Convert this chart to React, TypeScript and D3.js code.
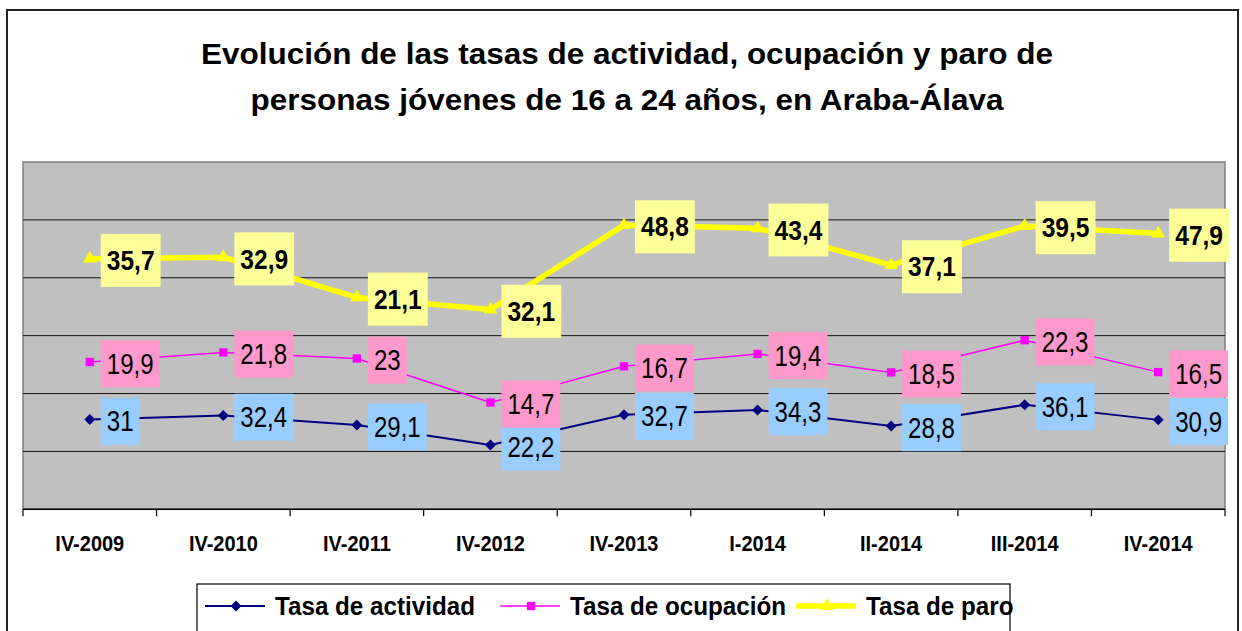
import React, { useEffect, useRef } from 'react';
import * as d3 from 'd3';

const categories = ['IV-2009', 'IV-2010', 'IV-2011', 'IV-2012', 'IV-2013', 'I-2014', 'II-2014', 'III-2014', 'IV-2014'];
const actividad = [31, 32.4, 29.1, 22.2, 32.7, 34.3, 28.8, 36.1, 30.9];
const ocupacion = [19.9, 21.8, 23, 14.7, 16.7, 19.4, 18.5, 22.3, 16.5];
const paro = [35.7, 32.9, 21.1, 32.1, 48.8, 43.4, 37.1, 39.5, 47.9];
const yTicks = [0, 20, 40, 60, 80, 100, 120];
const titleLines = ['Evolución de las tasas de actividad, ocupación y paro de', 'personas jóvenes de 16 a 24 años, en Araba-Álava'];

const FONT = '"Liberation Sans", Arial, sans-serif';

// square diamond (Excel style), rotated square
const diamond: d3.SymbolType = {
  draw(ctx, size) {
    const r = Math.sqrt(size / 2);
    ctx.moveTo(0, -r);
    ctx.lineTo(r, 0);
    ctx.lineTo(0, r);
    ctx.lineTo(-r, 0);
    ctx.closePath();
  },
};

const seriesDefs = [
  { key: 'actividad', name: 'Tasa de actividad', values: actividad, line: '#000080', width: 2, symbol: diamond, size: 60, box: '#99CCFF', bold: false },
  { key: 'ocupacion', name: 'Tasa de ocupación', values: ocupacion, line: '#FF00FF', width: 1.5, symbol: d3.symbolSquare, size: 70, box: '#FF99CC', bold: false },
  { key: 'paro', name: 'Tasa de paro', values: paro, line: '#FFFF00', width: 5.5, symbol: d3.symbolTriangle, size: 80, box: '#FFFF99', bold: true },
];

const App: React.FC = () => {
  const ref = useRef<SVGSVGElement>(null);

  useEffect(() => {
    if (!ref.current) return;
    const svg = d3.select(ref.current);
    svg.selectAll('*').remove();

    const W = 1242;
    const H = 631;
    const plot = { left: 23, right: 1225, top: 162, bottom: 509.3 };

    // outer frame
    svg.append('rect').attr('x', 0).attr('y', 0).attr('width', W).attr('height', H).attr('fill', '#fff');
    svg.append('rect')
      .attr('x', 7).attr('y', 10).attr('width', 1231).attr('height', 640)
      .attr('fill', '#fff').attr('stroke', '#222').attr('stroke-width', 2);

    // title
    titleLines.forEach((t, i) => {
      svg.append('text')
        .attr('transform', `translate(627, ${63.5 + i * 46}) scale(1.125, 1.05)`)
        .attr('text-anchor', 'middle')
        .attr('font-family', FONT)
        .attr('font-weight', 'bold')
        .attr('font-size', 28)
        .attr('fill', '#000')
        .text(t);
    });

    const x = d3.scaleBand<string>().domain(categories).range([plot.left, plot.right]);
    const y = d3.scaleLinear().domain([0, 120]).range([plot.bottom, plot.top]);
    const cx = (c: string) => (x(c) || 0) + x.bandwidth() / 2;

    // plot area
    svg.append('rect')
      .attr('x', plot.left).attr('y', plot.top)
      .attr('width', plot.right - plot.left).attr('height', plot.bottom - plot.top)
      .attr('fill', '#C0C0C0').attr('stroke', '#808080').attr('stroke-width', 1.5);

    svg.append('g').selectAll('line')
      .data(yTicks.filter(v => v > 0 && v < 120))
      .enter().append('line')
      .attr('x1', plot.left).attr('x2', plot.right)
      .attr('y1', d => y(d)).attr('y2', d => y(d))
      .attr('stroke', '#111').attr('stroke-width', 1);

    // x axis
    svg.append('line')
      .attr('x1', plot.left).attr('x2', plot.right)
      .attr('y1', plot.bottom).attr('y2', plot.bottom)
      .attr('stroke', '#000').attr('stroke-width', 1.5);

    const boundaries = categories.map(c => x(c) || 0).concat([plot.right]);
    svg.append('g').selectAll('line')
      .data(boundaries)
      .enter().append('line')
      .attr('x1', d => d).attr('x2', d => d)
      .attr('y1', plot.bottom).attr('y2', plot.bottom + 7)
      .attr('stroke', '#000').attr('stroke-width', 1.2);

    svg.append('g').selectAll('text')
      .data(categories)
      .enter().append('text')
      .attr('transform', d => `translate(${cx(d)}, 551) scale(0.93, 1.05)`)
      .attr('text-anchor', 'middle')
      .attr('font-family', FONT)
      .attr('font-weight', 'bold')
      .attr('font-size', 21.5)
      .attr('fill', '#000')
      .text(d => d);

    // stacked values
    const rows = categories.map((c, i) => ({ cat: c, actividad: actividad[i], ocupacion: ocupacion[i], paro: paro[i] }));
    const stacked = d3.stack<any>().keys(seriesDefs.map(s => s.key))(rows);

    const line = d3.line<any>()
      .x(d => cx(d.data.cat))
      .y(d => y(d[1]));

    seriesDefs.forEach((s, si) => {
      svg.append('path')
        .datum(stacked[si])
        .attr('d', line)
        .attr('fill', 'none')
        .attr('stroke', s.line)
        .attr('stroke-width', s.width)
        .attr('stroke-linejoin', 'round');
    });

    seriesDefs.forEach((s, si) => {
      svg.append('g').selectAll('path')
        .data(stacked[si])
        .enter().append('path')
        .attr('transform', (d: any) => `translate(${cx(d.data.cat)}, ${y(d[1])})`)
        .attr('d', d3.symbol().type(s.symbol).size(s.size)())
        .attr('fill', s.line);
    });

    // data labels
    seriesDefs.forEach((s, si) => {
      const sx = s.bold ? 0.91 : 0.86;
      const fontSize = s.bold ? 27 : 28;
      const boxH = s.bold ? 53 : 47;
      stacked[si].forEach((d: any, i: number) => {
        const px = cx(d.data.cat);
        const py = y(d[1]);
        const g = svg.append('g');
        const rect = g.append('rect').attr('fill', s.box);
        const label = String(s.values[i]).replace('.', ',');
        const txt = g.append('text')
          .attr('transform', `translate(${px + 17}, ${py + 1.7 + (s.bold ? 9.6 : 10)}) scale(${sx}, 1.03)`)
          .attr('font-family', FONT)
          .attr('font-weight', s.bold ? 'bold' : 'normal')
          .attr('font-size', fontSize)
          .attr('fill', '#000')
          .text(label);
        const tw = (txt.node() as SVGTextElement).getComputedTextLength() * sx;
        rect.attr('x', px + 11).attr('y', py + 1.7 - boxH / 2)
          .attr('width', tw + 12).attr('height', boxH);
      });
    });

    // legend
    const legend = svg.append('g');
    legend.append('rect')
      .attr('x', 197).attr('y', 584).attr('width', 813).attr('height', 50)
      .attr('fill', '#fff').attr('stroke', '#000').attr('stroke-width', 1.2);
    const legendX = [205, 500, 796];
    seriesDefs.forEach((s, si) => {
      const lx = legendX[si];
      const ly = 606;
      legend.append('line')
        .attr('x1', lx).attr('x2', lx + 60)
        .attr('y1', ly).attr('y2', ly)
        .attr('stroke', s.line).attr('stroke-width', s.width);
      legend.append('path')
        .attr('transform', `translate(${lx + 31}, ${ly})`)
        .attr('d', d3.symbol().type(s.symbol).size(s.size)())
        .attr('fill', s.line);
      legend.append('text')
        .attr('transform', `translate(${lx + 70}, 615) scale(0.98, 1.05)`)
        .attr('font-family', FONT)
        .attr('font-weight', 'bold')
        .attr('font-size', 24.7)
        .attr('fill', '#000')
        .text(s.name);
    });
  }, []);

  return (
    <svg
      ref={ref}
      width={1242}
      height={631}
      style={{ position: 'absolute', left: 0, top: 0, display: 'block' }}
    />
  );
};

export default App;
